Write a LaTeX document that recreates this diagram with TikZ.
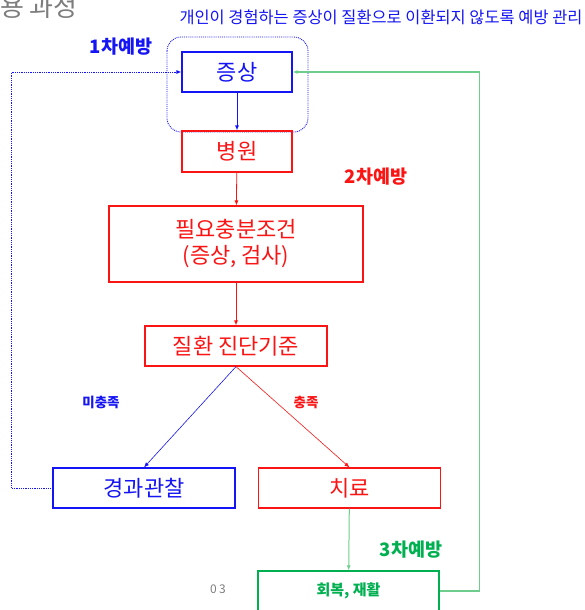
\documentclass[tikz,border=0pt]{standalone}
\usepackage{fontspec}
\setmainfont{Noto Sans CJK KR}
\usetikzlibrary{positioning,arrows.meta,calc}
\definecolor{pblue}{RGB}{20,20,245}
\definecolor{pred}{RGB}{250,20,20}
\definecolor{pgreen}{RGB}{0,176,80}
\definecolor{plgreen}{RGB}{110,205,140}
\definecolor{pgray}{RGB}{125,125,125}
\tikzset{
  flowarrow/.style={-{Latex[length=5pt,width=4pt]}, line width=0.8pt},
  bluebox/.style={draw=pblue, line width=1.2pt, text=pblue, minimum width=110pt, minimum height=40pt, align=center, font=\fontsize{22}{26}\selectfont},
  redbox/.style={draw=pred, line width=1.2pt, text=pred, minimum width=182pt, minimum height=40pt, align=center, font=\fontsize{22}{26}\selectfont},
  greenbox/.style={draw=pgreen, line width=1.2pt, text=pgreen, minimum width=181pt, minimum height=40pt, align=center, font=\fontsize{15}{18}\selectfont\bfseries},
  stagelabel/.style={font=\fontsize{18.5}{21}\selectfont\bfseries},
  branchlabel/.style={font=\fontsize{13.5}{15}\selectfont\bfseries}
}
\begin{document}
\begin{tikzpicture}[x=1pt, y=-1pt, >=Latex]
  \useasboundingbox (0,0) rectangle (584,610);
  % title and caption
  \node[text=pgray, font=\fontsize{26}{30}\selectfont] (title) at (39,7) {용 과정};
  \node[text=pblue, font=\fontsize{16.4}{18}\selectfont] (caption) at (381,17) {개인이 경험하는 증상이 질환으로 이환되지 않도록 예방 관리};
  % primary prevention frame
  \draw[pblue, densely dotted, line width=0.9pt, rounded corners=14pt] (167,37) rectangle (308,132);
  \node[stagelabel, text=pblue] (first) at (121,47) {1차예방};
  \node[stagelabel, text=pred] (second) at (376,177) {2차예방};
  \node[stagelabel, text=pgreen] (third) at (411,550) {3차예방};
  % boxes
  \node[bluebox] (symptom) at (237,72) {증상};
  \node[redbox, minimum width=110pt, minimum height=41pt] (hospital) at (237,151.5) {병원};
  \node[redbox, minimum width=254pt, minimum height=76pt] (cond) at (236,244) {필요충분조건\\(증상, 검사)};
  \node[redbox] (crit) at (236,346) {질환 진단기준};
  \node[bluebox, minimum width=182pt] (observe) at (144,488) {경과관찰};
  \node[redbox] (treat) at (349.5,488) {치료};
  \node[greenbox] (rehab) at (348.5,591) {회복, 재활};
  \node[text=pgray, font=\fontsize{12}{14}\selectfont\addfontfeature{LetterSpace=20}] (page) at (218,589) {03};
  % branch labels
  \node[branchlabel, text=pblue] (unmet) at (101,402) {미충족};
  \node[branchlabel, text=pred] (met) at (306,402) {충족};
  % connectors
  \draw[flowarrow, pblue] (symptom) -- (hospital);
  \draw[flowarrow, pred] (hospital) -- (cond);
  \draw[flowarrow, pred] (cond) -- (crit);
  \draw[flowarrow, pblue, line width=0.6pt] (crit.south) -- (observe.north);
  \draw[flowarrow, pred, line width=0.6pt] (crit.south) -- (treat.north);
  \draw[flowarrow, plgreen, line width=1pt] (treat) -- (rehab);
  \draw[flowarrow, pblue, densely dotted, line width=0.8pt] (observe.west) -- ++(-41,0) |- (symptom.west);
  \draw[flowarrow, plgreen, line width=1.2pt] (rehab.east) -- ++(40,0) |- (symptom.east);
\end{tikzpicture}
\end{document}
